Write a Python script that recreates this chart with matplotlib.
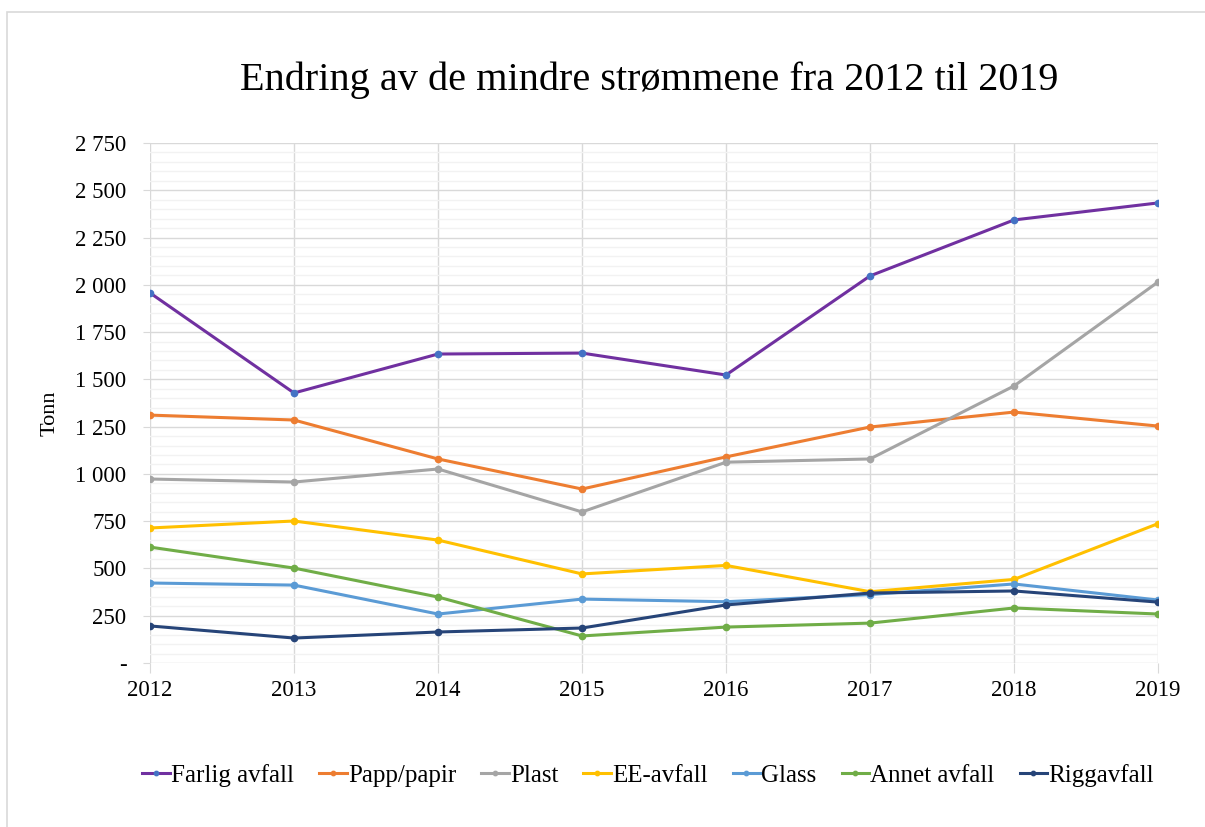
import matplotlib
matplotlib.use("Agg")
import matplotlib.pyplot as plt
from matplotlib.ticker import FuncFormatter, MultipleLocator
from matplotlib.patches import Rectangle

years = [2012, 2013, 2014, 2015, 2016, 2017, 2018, 2019]
farlig_avfall = [1957, 1428, 1634, 1639, 1523, 2047, 2343, 2433]
papp_papir = [1311, 1285, 1079, 920, 1090, 1248, 1327, 1253]
plast = [973, 957, 1026, 799, 1062, 1079, 1465, 2015]
ee_avfall = [714, 751, 650, 471, 516, 377, 442, 737]
glass = [423, 412, 259, 338, 324, 362, 418, 333]
annet_avfall = [613, 502, 349, 143, 190, 211, 291, 259]
riggavfall = [196, 132, 164, 185, 307, 370, 381, 322]

series_names = ["Farlig avfall", "Papp/papir", "Plast", "EE-avfall", "Glass", "Annet avfall", "Riggavfall"]
series_values = [farlig_avfall, papp_papir, plast, ee_avfall, glass, annet_avfall, riggavfall]
line_colors = ["#7030A0", "#ED7D31", "#A5A5A5", "#FFC000", "#5B9BD5", "#70AD47", "#264478"]
marker_colors = ["#4472C4", "#ED7D31", "#A5A5A5", "#FFC000", "#5B9BD5", "#70AD47", "#264478"]

plt.rcParams['font.family'] = ['Liberation Serif', 'DejaVu Serif']

fig = plt.figure(figsize=(12.05, 8.27), dpi=100)
fig.patches.append(Rectangle((0.0062, -0.05), 1.2, 1.036, transform=fig.transFigure,
                             fill=False, edgecolor="#D9D9D9", linewidth=1.2))
ax = fig.add_axes([0.1245, 0.1983, 0.8365, 0.6288])

for name, vals, lc, mc in zip(series_names, series_values, line_colors, marker_colors):
    ax.plot(years, vals, color=lc, linewidth=2.2, marker='o', markersize=4.5,
            markerfacecolor=mc, markeredgecolor=mc, label=name, zorder=3)

ax.set_xlim(2012, 2019)
ax.set_ylim(0, 2750)
ax.set_xticks(years)
ax.yaxis.set_major_locator(MultipleLocator(250))
ax.yaxis.set_minor_locator(MultipleLocator(50))

def fmt(v, pos):
    if abs(v) < 1e-9:
        return "-"
    return "{:,}".format(int(round(v))).replace(",", " ")

ax.yaxis.set_major_formatter(FuncFormatter(fmt))
ax.grid(which='major', axis='both', color="#D9D9D9", linewidth=1.0, zorder=1)
ax.grid(which='minor', axis='y', color="#F2F2F2", linewidth=1.0, zorder=0)
for s in ax.spines.values():
    s.set_visible(False)
ax.tick_params(axis='x', which='major', length=7, color="#D9D9D9", labelsize=16.5, pad=5)
ax.tick_params(axis='y', which='major', length=5, color="#D9D9D9", labelsize=16.5, pad=12)
ax.tick_params(axis='y', which='minor', length=0)
ax.set_axisbelow(True)

ax.set_ylabel("Tonn", fontsize=16)
ax.yaxis.set_label_coords(-0.09, 0.48)
fig.text(0.539, 0.903, "Endring av de mindre strømmene fra 2012 til 2019", ha='center', va='center', fontsize=29)

leg = fig.legend(loc='center', bbox_to_anchor=(0.538, 0.062), ncol=7, frameon=False,
                 fontsize=18, handlelength=1.1, handletextpad=0.05, columnspacing=1.0,
                 markerscale=0.7)

fig.savefig("out.png", dpi=100)
